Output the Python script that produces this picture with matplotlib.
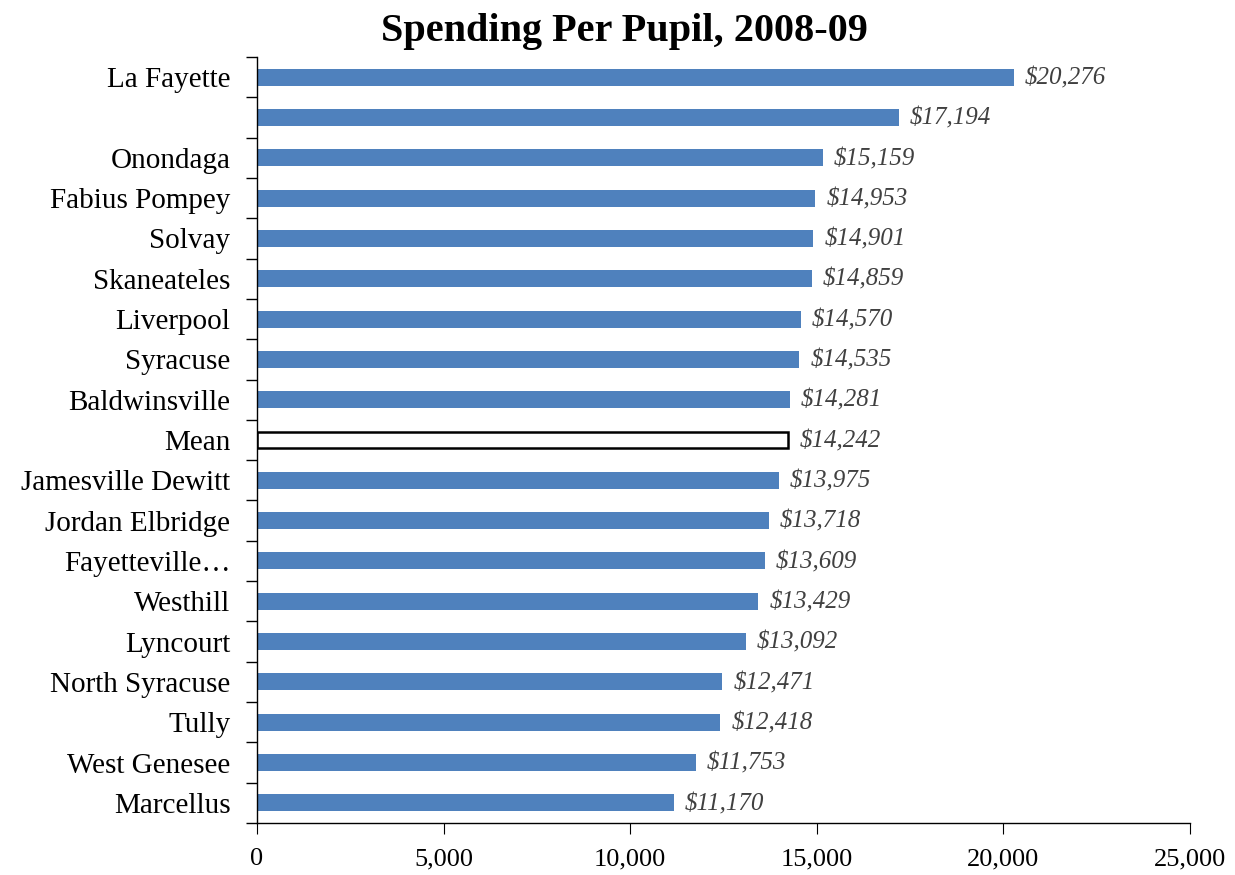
import numpy as np
import matplotlib.pyplot as plt
from matplotlib.ticker import FuncFormatter, FixedLocator

plt.rcParams['font.family'] = ['Liberation Serif', 'DejaVu Serif']

districts = ['La Fayette', '', 'Onondaga', 'Fabius Pompey', 'Solvay', 'Skaneateles',
             'Liverpool', 'Syracuse', 'Baldwinsville', 'Mean', 'Jamesville Dewitt',
             'Jordan Elbridge', 'Fayetteville…', 'Westhill', 'Lyncourt',
             'North Syracuse', 'Tully', 'West Genesee', 'Marcellus']
spending = [20276, 17194, 15159, 14953, 14901, 14859, 14570, 14535, 14281, 14242,
            13975, 13718, 13609, 13429, 13092, 12471, 12418, 11753, 11170]
x_ticks = [0, 5000, 10000, 15000, 20000, 25000]

fig = plt.figure(figsize=(12.35, 8.75), dpi=100)
ax = fig.add_axes([0.208, 0.0594, 0.7556, 0.8755])

y = np.arange(len(districts))
for yi, name, val in zip(y, districts, spending):
    if name == 'Mean':
        ax.barh(yi, val, height=0.42, facecolor='white', edgecolor='black', linewidth=1.8)
    else:
        ax.barh(yi, val, height=0.42, color='#4F81BD')
    ax.text(val + 300, yi + 0.03, f'${val:,}', va='center', ha='left',
            fontsize=18, style='italic', color='#404040')

ax.set_ylim(len(districts) - 0.5, -0.5)
ax.set_xlim(0, 25000)
ax.set_yticks(y)
ax.set_yticklabels(districts, fontsize=21)
ax.yaxis.set_minor_locator(FixedLocator(np.arange(-0.5, len(districts), 1)))
ax.tick_params(axis='y', which='major', length=0, pad=19)
ax.tick_params(axis='y', which='minor', length=8, direction='out', width=1)
ax.set_xticks(x_ticks)
ax.xaxis.set_major_formatter(FuncFormatter(lambda v, p: f'{int(v):,}'))
ax.tick_params(axis='x', length=8, direction='out', labelsize=19, pad=10)

for s in ['top', 'right']:
    ax.spines[s].set_visible(False)
ax.spines['left'].set_linewidth(1)
ax.spines['bottom'].set_linewidth(1)

fig.suptitle('Spending Per Pupil, 2008-09', fontsize=29, fontweight='bold', x=0.506, y=0.985)

fig.savefig('out.png', dpi=100)
